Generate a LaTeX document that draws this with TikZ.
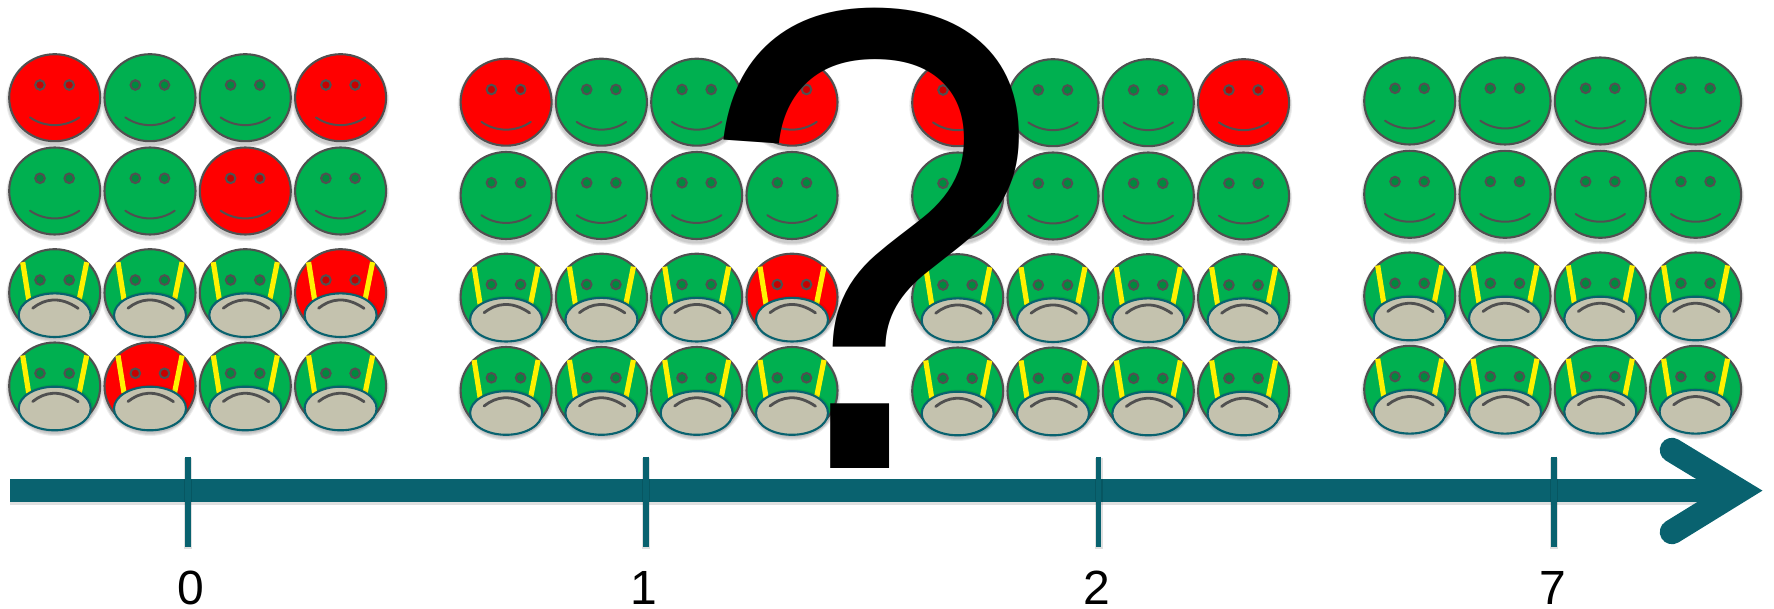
\documentclass[tikz,border=0pt]{standalone}
\usepackage{fontspec}
\setmainfont{Liberation Sans}
\definecolor{fgreen}{HTML}{00B050}
\definecolor{fred}{HTML}{FF0000}
\definecolor{edgegray}{HTML}{505050}
\definecolor{teal1}{HTML}{09626F}
\definecolor{maskc}{HTML}{C4C2AE}
\tikzset{
  faceedge/.style={draw=edgegray,line width=2.1pt},
  eyeball/.style={draw=edgegray,line width=2pt,fill=black,fill opacity=.22},
  mouth/.style={draw=edgegray,line width=2pt,line cap=round},
  frown/.style={draw=edgegray,line width=2.8pt,line cap=round},
  strap/.style={draw=yellow,line width=5.2pt},
  mask/.style={draw=teal1,line width=2.1pt,fill=maskc},
  softshadow/.style={fill=black,fill opacity=.07,draw=none},
  barline/.style={draw=teal1,line width=23pt},
  barshadow/.style={draw=black,draw opacity=.12,line width=23pt},
  tickshadow/.style={draw=black,draw opacity=.12,line width=8pt},
  tick/.style={draw=teal1,line width=5.7pt},
  chevron/.style={draw=teal1,line width=24.5pt,line cap=round,line join=miter,miter limit=10},
  ticklabel/.style={font=\fontsize{48}{48}\selectfont,inner sep=0pt},
  bigq/.style={font=\fontsize{634}{634}\selectfont,inner sep=0pt,text=black,xscale=.975,yscale=1.04,transform shape}
}
\newcommand{\facebase}[3]{%
  \foreach \r in {48.5,47.5,46.5}{%
    \path[softshadow] (#1,#2+3) ellipse [x radius=\r pt,y radius=\r pt-1.5pt];}
  \path[faceedge,fill=#3] (#1,#2) ellipse [x radius=45.5pt,y radius=43.5pt];
  \path[eyeball] (#1-14.7,#2-12.7) circle [radius=4.8pt];
  \path[eyeball] (#1+14.5,#2-12.7) circle [radius=4.8pt];
}
\newcommand{\smileface}[3]{%
  \facebase{#1}{#2}{#3}
  \draw[mouth] (#1-24.7,#2+19.7) .. controls (#1-10,#2+30) and (#1+10,#2+30) .. (#1+24.7,#2+19.7);
}
\newcommand{\maskface}[3]{%
  \facebase{#1}{#2}{#3}
  \draw[strap] (#1-32,#2-30.5) -- (#1-26,#2+7);
  \draw[strap] (#1+32,#2-30.5) -- (#1+24.5,#2+7);
  \path[softshadow] (#1+1,#2+22.5) ellipse [x radius=38pt,y radius=24pt];
  \path[mask] (#1,#2+22.5) ellipse [x radius=36pt,y radius=21.8pt];
  \draw[frown] (#1-22,#2+15.5) .. controls (#1-10,#2+6) and (#1+5,#2+3) .. (#1+23.5,#2+15.7);
}
\begin{document}
\begin{tikzpicture}[x=1pt,y=-1pt]
\useasboundingbox (0,0) rectangle (1774,609);
\foreach \dx/\dy/\ra/\rb/\rc/\rd in {
  0/0/{fred,fgreen,fgreen,fred}/{fgreen,fgreen,fred,fgreen}/{fgreen,fgreen,fgreen,fred}/{fgreen,fred,fgreen,fgreen},
  451.4/4.5/{fred,fgreen,fgreen,fred}/{fgreen,fgreen,fgreen,fgreen}/{fgreen,fgreen,fgreen,fred}/{fgreen,fgreen,fgreen,fgreen},
  903/5/{fred,fgreen,fgreen,fred}/{fgreen,fgreen,fgreen,fgreen}/{fgreen,fgreen,fgreen,fgreen}/{fgreen,fgreen,fgreen,fgreen},
  1355/3.3/{fgreen,fgreen,fgreen,fgreen}/{fgreen,fgreen,fgreen,fgreen}/{fgreen,fgreen,fgreen,fgreen}/{fgreen,fgreen,fgreen,fgreen}}{
  \foreach \col [count=\i from 0] in \ra {\smileface{54.7+95.3*\i+\dx}{97.7+\dy}{\col}}
  \foreach \col [count=\i from 0] in \rb {\smileface{54.7+95.3*\i+\dx}{191+\dy}{\col}}
  \foreach \col [count=\i from 0] in \rc {\maskface{54.7+95.3*\i+\dx}{292.7+\dy}{\col}}
  \foreach \col [count=\i from 0] in \rd {\maskface{54.7+95.3*\i+\dx}{386+\dy}{\col}}
}
\coordinate (barstart) at (10,490.7);
\coordinate (barend) at (1730,490.7);
\coordinate (shadowstart) at (10,493);
\coordinate (shadowend) at (1700,493);
\coordinate (armtop) at (1672,450);
\coordinate (armbot) at (1672,532);
\coordinate (tip) at (1739,490.7);
\draw[barshadow] (shadowstart) -- (shadowend);
\draw[barline] (barstart) -- (barend);
\draw[chevron] (armtop) -- (tip) -- (armbot);
\foreach \nm/\x/\lx/\t in {a/188/191/0,b/646/644/1,c/1098.6/1097/2,d/1554.3/1553/7}{
  \coordinate (t\nm top) at (\x,456.7);
  \coordinate (t\nm bot) at (\x,546.7);
  \coordinate (t\nm stop) at (\x,457.7);
  \coordinate (t\nm sbot) at (\x,549);
  \draw[tickshadow] (t\nm stop) -- (t\nm sbot);
  \draw[tick] (t\nm top) -- (t\nm bot);
  \node[ticklabel,anchor=base] (l\nm) at (\lx,604.5) {\t};
}
\node[bigq,anchor=base] (qmark) at (870,468) {?};
\end{tikzpicture}
\end{document}
